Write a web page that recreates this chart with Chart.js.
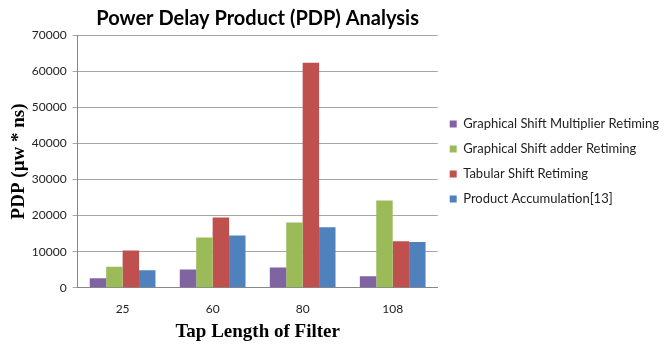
<!DOCTYPE html>
<html>
<head>
<meta charset="utf-8">
<script src="https://cdn.jsdelivr.net/npm/chart.js@4"></script>
<style>
  body { margin: 0; background: #fff; }
</style>
</head>
<body>
<canvas id="pdp" width="669" height="351"></canvas>
<script>
var tapLengths = ['25', '60', '80', '108'];
var shiftMultiplier = [2650, 5100, 5650, 3200];
var shiftAdder = [5850, 13950, 18050, 24200];
var tabularShift = [10350, 19450, 62300, 12900];
var productAccum = [4850, 14500, 16750, 12650];

var ctx = document.getElementById("pdp");
var pdpChart = new Chart(ctx, {
  type: 'bar',
  data: {
    labels: tapLengths,
    datasets: [{
      label: 'Graphical Shift Multiplier Retiming',
      data: shiftMultiplier,
      backgroundColor: '#8064A2'
    }, {
      label: 'Graphical Shift adder Retiming',
      data: shiftAdder,
      backgroundColor: '#9BBB59'
    }, {
      label: 'Tabular Shift Retiming',
      data: tabularShift,
      backgroundColor: '#C0504D'
    }, {
      label: 'Product Accumulation[13]',
      data: productAccum,
      backgroundColor: '#4F81BD'
    }]
  },
  options: {
    responsive: false,
    animation: false,
    categoryPercentage: 0.73,
    barPercentage: 1,
    layout: {
      padding: { left: 3, right: 0, top: 0, bottom: 0 }
    },
    plugins: {
      title: {
        display: true,
        text: 'Power Delay Product (PDP) Analysis',
        fullSize: false,
        color: '#000',
        font: { family: 'Lato', size: 20, weight: 'bold' },
        padding: { top: 7, bottom: 4 }
      },
      legend: {
        position: 'right',
        fullSize: false,
        maxWidth: 260,
        labels: {
          boxWidth: 7,
          boxHeight: 7,
          padding: 12,
          color: '#222',
          font: { family: 'Lato', size: 13 }
        }
      },
      tooltip: { enabled: false }
    },
    scales: {
      x: {
        grid: { display: false, drawTicks: false },
        border: { color: '#888' },
        ticks: {
          color: '#222',
          padding: 14,
          font: { family: 'Lato', size: 12 }
        },
        title: {
          display: true,
          text: 'Tap Length of Filter',
          color: '#000',
          font: { family: 'Liberation Serif', size: 19, weight: 'bold' },
          padding: { top: -10, bottom: 8 }
        }
      },
      y: {
        min: 0,
        max: 70000,
        ticks: {
          stepSize: 10000,
          color: '#222',
          padding: 6,
          font: { family: 'Lato', size: 12 },
          callback: function(value) { return String(value); }
        },
        grid: { color: '#a6a6a6', tickLength: 5 },
        border: { color: '#888' },
        title: {
          display: true,
          text: 'PDP (µw * ns)',
          color: '#000',
          font: { family: 'Liberation Serif', size: 19, weight: 'bold' },
          padding: { top: 5, bottom: -5 }
        }
      }
    }
  }
});
</script>
</body>
</html>
